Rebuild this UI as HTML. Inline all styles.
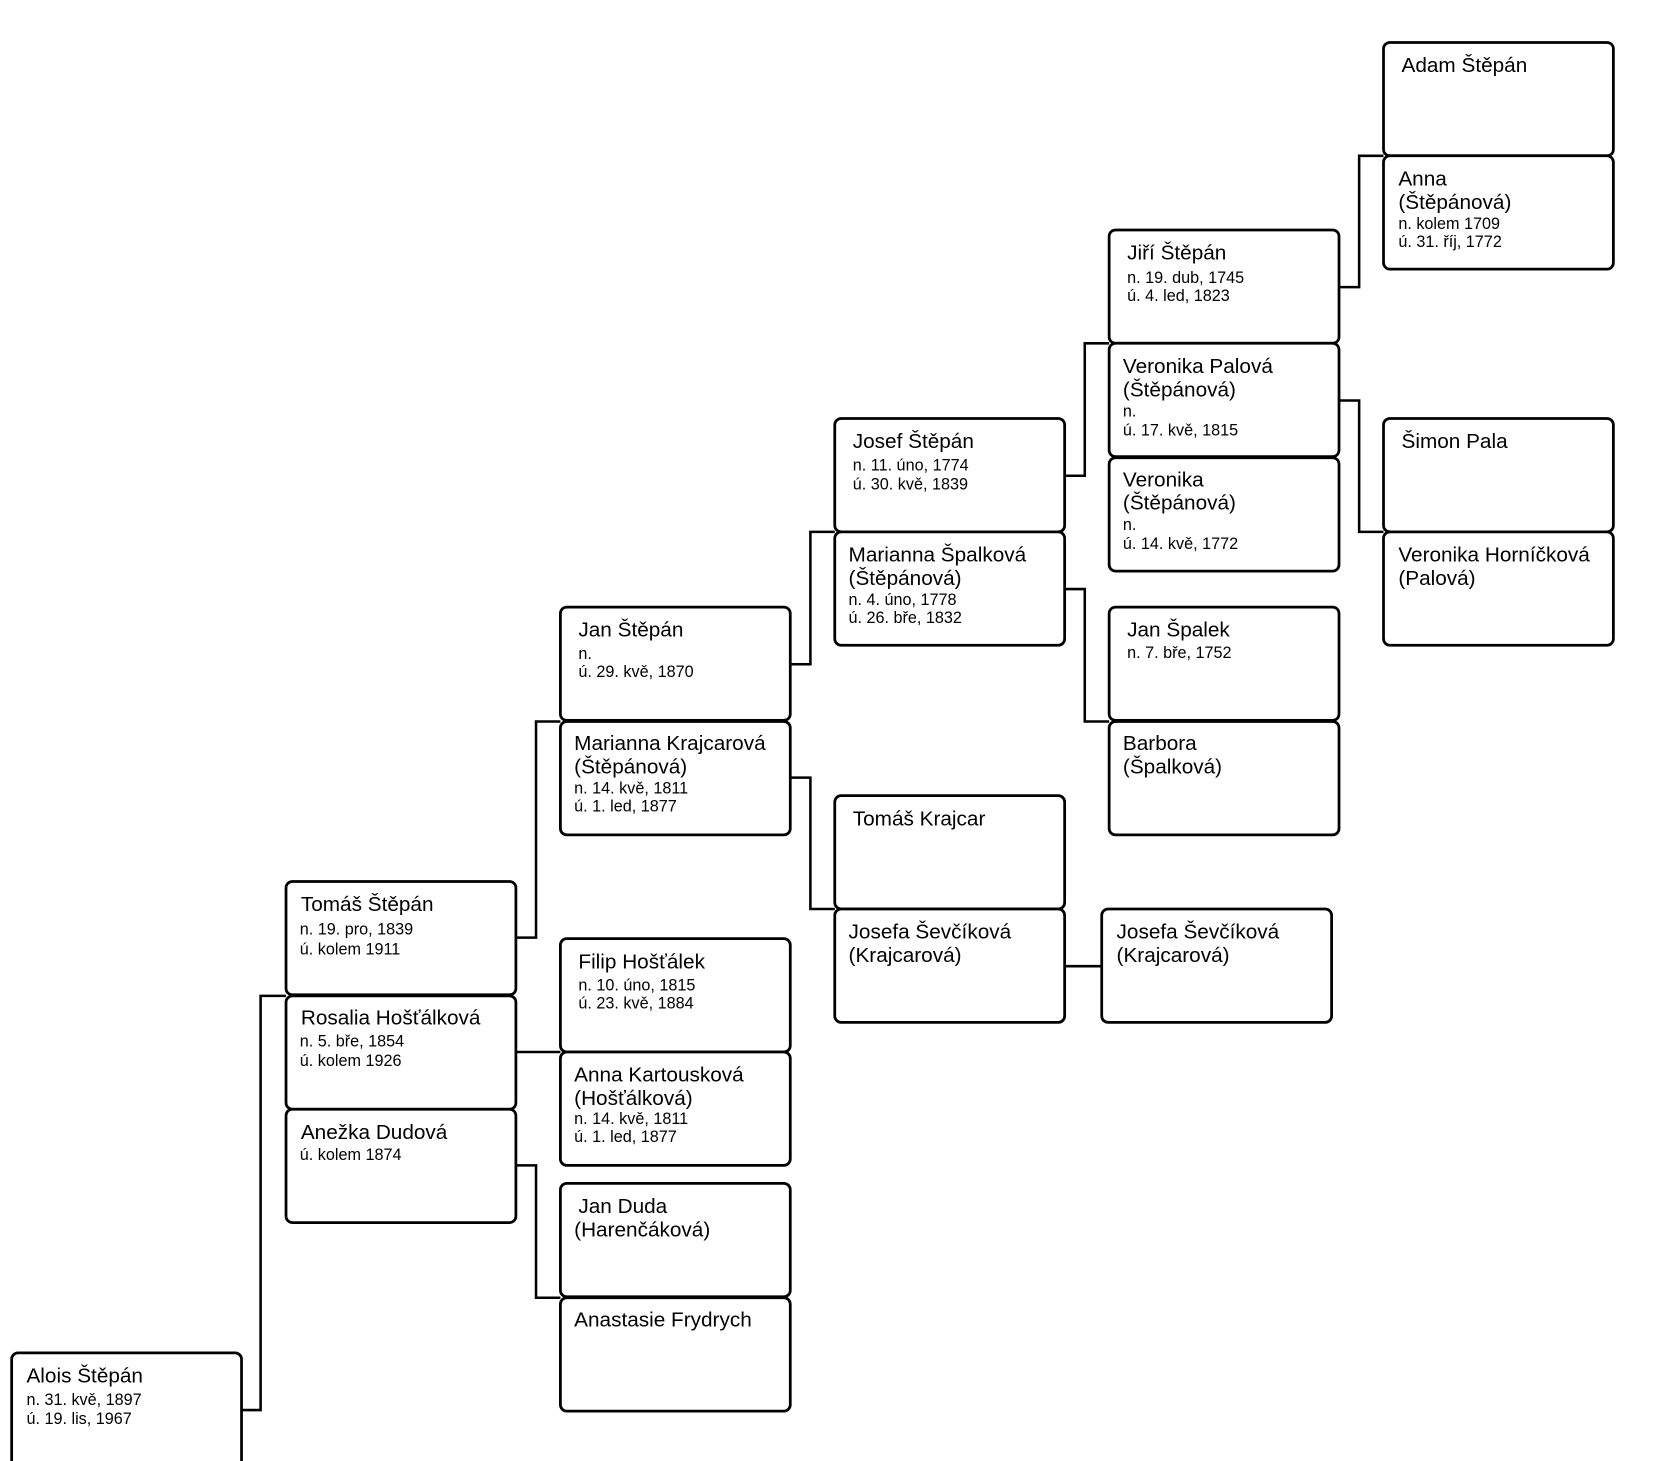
<!DOCTYPE html>
<html><head><meta charset="utf-8"><style>
html,body{margin:0;padding:0;background:#fff;width:1660px;height:1461px;overflow:hidden}
svg{display:block}
text{font-family:"Liberation Sans",sans-serif;fill:#000}
.n{font-size:19.6px}.d{font-size:15.3px}
rect{fill:#fff;stroke:#000;stroke-width:2.6}
path{fill:none;stroke:#000;stroke-width:2.4}
</style></head><body>
<svg width="1660" height="1461" viewBox="0 0 1567 1379">
<path d="M228 1331H246V940H270"/>
<path d="M487 885H506V681H529"/>
<path d="M487 993H529"/>
<path d="M487 1100H506V1225H529"/>
<path d="M746 627H765V502H788"/>
<path d="M746 734H765V858H788"/>
<path d="M1005 449H1024V324H1047"/>
<path d="M1005 556H1024V681H1047"/>
<path d="M1005 912H1040"/>
<path d="M1264 271H1283V147H1306"/>
<path d="M1264 378H1283V502H1306"/>

<rect x="11" y="1277" width="217" height="140" rx="6"/>
<text class="n" x="25" y="1305">Alois Štěpán</text><text class="d" x="25" y="1326">n. 31. kvě, 1897</text><text class="d" x="25" y="1344">ú. 19. lis, 1967</text>

<rect x="270" y="832" width="217" height="107" rx="6"/>
<text class="n" x="284" y="860">Tomáš Štěpán</text><text class="d" x="283" y="882">n. 19. pro, 1839</text><text class="d" x="283" y="901">ú. kolem 1911</text>
<rect x="270" y="940" width="217" height="107" rx="6"/>
<text class="n" x="284" y="967">Rosalia Hošťálková</text><text class="d" x="283" y="988">n. 5. bře, 1854</text><text class="d" x="283" y="1006">ú. kolem 1926</text>
<rect x="270" y="1047" width="217" height="107" rx="6"/>
<text class="n" x="284" y="1075">Anežka Dudová</text><text class="d" x="283" y="1095">ú. kolem 1874</text>

<rect x="529" y="573" width="217" height="107" rx="6"/>
<text class="n" x="546" y="601">Jan Štěpán</text><text class="d" x="546" y="622">n.</text><text class="d" x="546" y="639">ú. 29. kvě, 1870</text>
<rect x="529" y="681" width="217" height="107" rx="6"/>
<text class="n" x="542" y="708">Marianna Krajcarová</text><text class="n" x="542" y="730">(Štěpánová)</text><text class="d" x="542" y="749">n. 14. kvě, 1811</text><text class="d" x="542" y="766">ú. 1. led, 1877</text>
<rect x="529" y="886" width="217" height="107" rx="6"/>
<text class="n" x="546" y="914">Filip Hošťálek</text><text class="d" x="546" y="935">n. 10. úno, 1815</text><text class="d" x="546" y="952">ú. 23. kvě, 1884</text>
<rect x="529" y="993" width="217" height="107" rx="6"/>
<text class="n" x="542" y="1021">Anna Kartousková</text><text class="n" x="542" y="1043">(Hošťálková)</text><text class="d" x="542" y="1061">n. 14. kvě, 1811</text><text class="d" x="542" y="1078">ú. 1. led, 1877</text>
<rect x="529" y="1117" width="217" height="107" rx="6"/>
<text class="n" x="546" y="1145">Jan Duda</text><text class="n" x="542" y="1167">(Harenčáková)</text>
<rect x="529" y="1225" width="217" height="107" rx="6"/>
<text class="n" x="542" y="1252">Anastasie Frydrych</text>

<rect x="788" y="395" width="217" height="107" rx="6"/>
<text class="n" x="805" y="423">Josef Štěpán</text><text class="d" x="805" y="444">n. 11. úno, 1774</text><text class="d" x="805" y="462">ú. 30. kvě, 1839</text>
<rect x="788" y="502" width="217" height="107" rx="6"/>
<text class="n" x="801" y="530">Marianna Špalková</text><text class="n" x="801" y="552">(Štěpánová)</text><text class="d" x="801" y="571">n. 4. úno, 1778</text><text class="d" x="801" y="588">ú. 26. bře, 1832</text>
<rect x="788" y="751" width="217" height="107" rx="6"/>
<text class="n" x="805" y="779">Tomáš Krajcar</text>
<rect x="788" y="858" width="217" height="107" rx="6"/>
<text class="n" x="801" y="886">Josefa Ševčíková</text><text class="n" x="801" y="908">(Krajcarová)</text>
<rect x="1040" y="858" width="217" height="107" rx="6"/>
<text class="n" x="1054" y="886">Josefa Ševčíková</text><text class="n" x="1054" y="908">(Krajcarová)</text>

<rect x="1047" y="217" width="217" height="107" rx="6"/>
<text class="n" x="1064" y="245">Jiří Štěpán</text><text class="d" x="1064" y="267">n. 19. dub, 1745</text><text class="d" x="1064" y="284">ú. 4. led, 1823</text>
<rect x="1047" y="324" width="217" height="107" rx="6"/>
<text class="n" x="1060" y="352">Veronika Palová</text><text class="n" x="1060" y="374">(Štěpánová)</text><text class="d" x="1060" y="393">n.</text><text class="d" x="1060" y="411">ú. 17. kvě, 1815</text>
<rect x="1047" y="432" width="217" height="107" rx="6"/>
<text class="n" x="1060" y="459">Veronika</text><text class="n" x="1060" y="481">(Štěpánová)</text><text class="d" x="1060" y="500">n.</text><text class="d" x="1060" y="518">ú. 14. kvě, 1772</text>
<rect x="1047" y="573" width="217" height="107" rx="6"/>
<text class="n" x="1064" y="601">Jan Špalek</text><text class="d" x="1064" y="621">n. 7. bře, 1752</text>
<rect x="1047" y="681" width="217" height="107" rx="6"/>
<text class="n" x="1060" y="708">Barbora</text><text class="n" x="1060" y="730">(Špalková)</text>

<rect x="1306" y="40" width="217" height="107" rx="6"/>
<text class="n" x="1323" y="68">Adam Štěpán</text>
<rect x="1306" y="147" width="217" height="107" rx="6"/>
<text class="n" x="1320" y="175">Anna</text><text class="n" x="1320" y="197">(Štěpánová)</text><text class="d" x="1320" y="216">n. kolem 1709</text><text class="d" x="1320" y="233">ú. 31. říj, 1772</text>
<rect x="1306" y="395" width="217" height="107" rx="6"/>
<text class="n" x="1323" y="423">Šimon Pala</text>
<rect x="1306" y="502" width="217" height="107" rx="6"/>
<text class="n" x="1320" y="530">Veronika Horníčková</text><text class="n" x="1320" y="552">(Palová)</text>
</svg>
</body></html>
